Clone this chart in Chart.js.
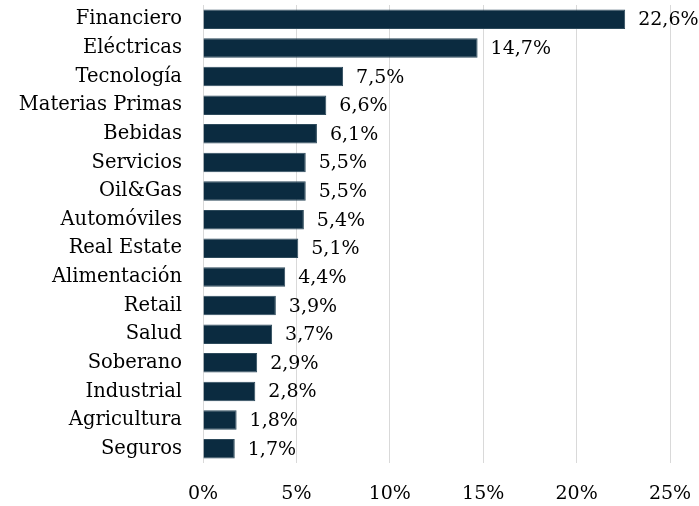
<!DOCTYPE html>
<html>
<head>
<meta charset="utf-8">
<script src="https://cdn.jsdelivr.net/npm/chart.js@4"></script>
<style>
  html, body { margin: 0; padding: 0; background: #fff; }
</style>
</head>
<body>
<canvas id="chart" width="699" height="506"></canvas>
<script>
// sectores y pesos (%)
const sectores = [
    'Financiero', 'Eléctricas', 'Tecnología', 'Materias Primas', 'Bebidas',
    'Servicios', 'Oil&Gas', 'Automóviles', 'Real Estate', 'Alimentación',
    'Retail', 'Salud', 'Soberano', 'Industrial', 'Agricultura', 'Seguros'
];
const pesos = [22.6, 14.7, 7.5, 6.6, 6.1, 5.5, 5.5, 5.4, 5.1, 4.4, 3.9, 3.7, 2.9, 2.8, 1.8, 1.7];
const ticksX = [0, 5, 10, 15, 20, 25];

const fuente = { family: '"DejaVu Serif", serif', size: 19 };
const fuenteY = { family: '"DejaVu Serif", serif', size: 19.5 };

// etiquetas de valor al final de cada barra
const etiquetas = {
    id: 'etiquetas',
    afterDatasetsDraw(chart) {
        const ctx = chart.ctx;
        const meta = chart.getDatasetMeta(0);
        ctx.save();
        ctx.font = fuente.size + 'px ' + fuente.family;
        ctx.fillStyle = '#000';
        ctx.textAlign = 'left';
        ctx.textBaseline = 'middle';
        meta.data.forEach((bar, i) => {
            const txt = pesos[i].toFixed(1).replace('.', ',') + '%';
            ctx.fillText(txt, bar.x + 13, bar.y + 1);
        });
        ctx.restore();
    }
};

const ctx = document.getElementById('chart').getContext('2d');
new Chart(ctx, {
    type: 'bar',
    data: {
        labels: sectores,
        datasets: [{
            data: pesos,
            backgroundColor: '#0b2b40',
            borderColor: '#2d4a5b',
            borderWidth: 1,
            barPercentage: 0.68,
            categoryPercentage: 1
        }]
    },
    options: {
        indexAxis: 'y',
        responsive: false,
        animation: false,
        layout: { padding: { top: 5, right: 29, left: 0, bottom: 0 } },
        plugins: {
            legend: { display: false },
            tooltip: { enabled: false }
        },
        scales: {
            x: {
                min: 0,
                max: 25,
                afterBuildTicks(scale) {
                    scale.ticks = ticksX.map(v => ({ value: v }));
                },
                afterFit(scale) {
                    scale.height = 43;
                    scale.paddingLeft = 0;
                    scale.paddingRight = 0;
                },
                grid: { color: '#d9d9d9', drawTicks: false, lineWidth: 1 },
                border: { display: false },
                ticks: {
                    padding: 20,
                    color: '#000',
                    font: fuente,
                    callback: v => v + '%'
                }
            },
            y: {
                afterFit(scale) {
                    scale.width = 203;
                    scale.paddingTop = 0;
                    scale.paddingBottom = 0;
                },
                grid: { display: false, drawTicks: false },
                border: { display: false },
                ticks: {
                    padding: 21,
                    color: '#000',
                    font: fuenteY
                }
            }
        }
    },
    plugins: [etiquetas]
});
</script>
</body>
</html>
